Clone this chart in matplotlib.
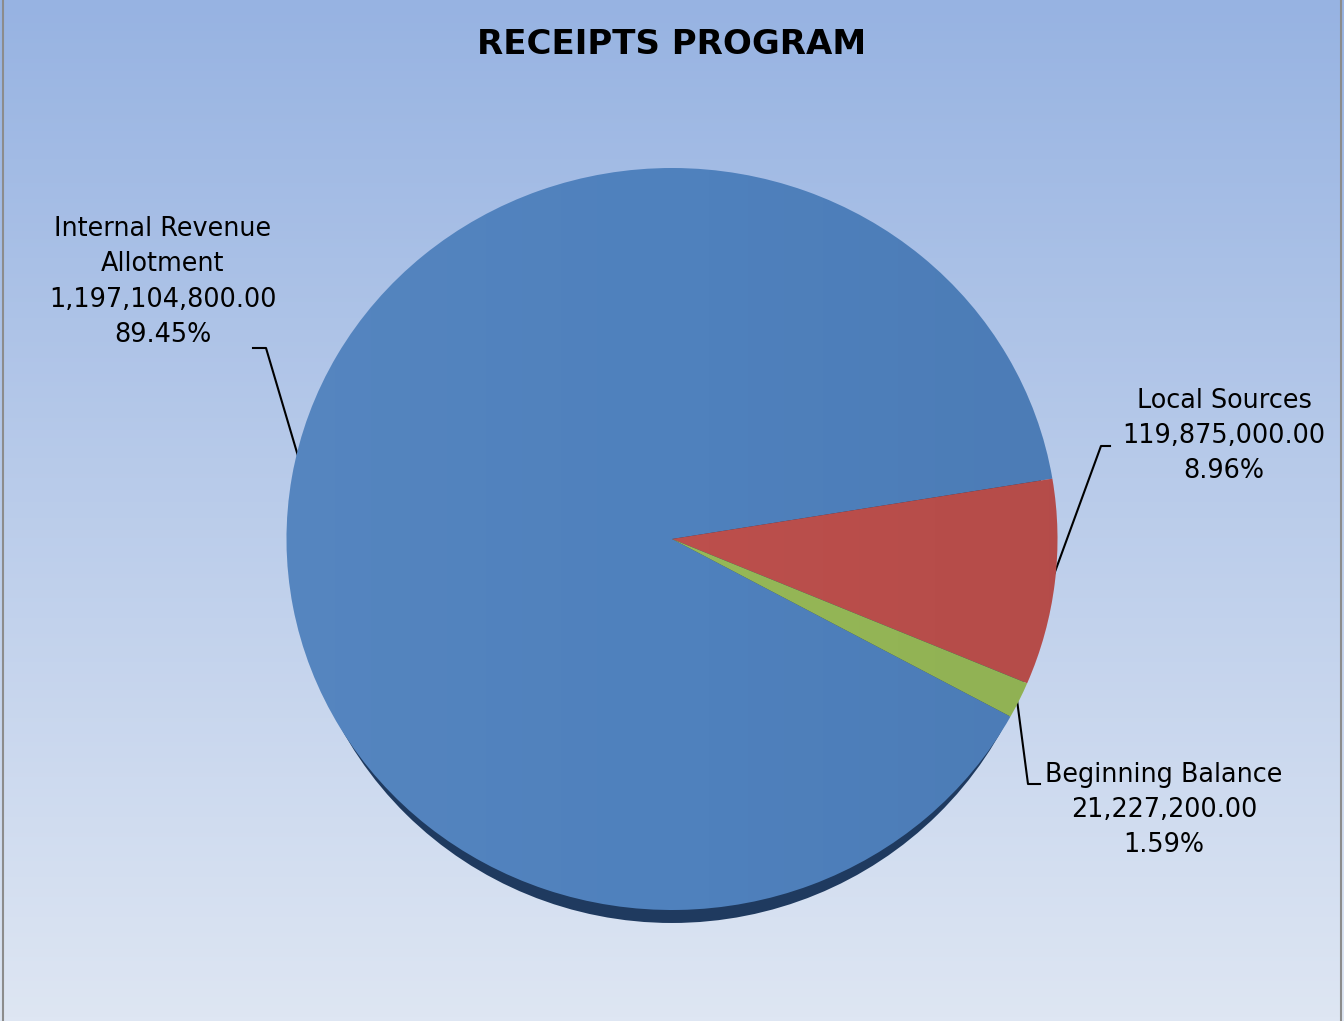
import numpy as np
import matplotlib.pyplot as plt
from matplotlib.lines import Line2D
from matplotlib.patches import Ellipse

# data
labels = ['Internal Revenue\nAllotment', 'Local Sources', 'Beginning Balance']
amounts = [1197104800.00, 119875000.00, 21227200.00]
pct_shown = [89.45, 8.96, 1.59]   # as printed on the chart
colors = ['#4F81BD', '#BC4F4C', '#96B857']

W, H = 1344, 1021
fig = plt.figure(figsize=(W / 100, H / 100), dpi=100)

# background with vertical gradient
bg = fig.add_axes([0, 0, 1, 1])
top = np.array([0x97, 0xB3, 0xE2]) / 255
bot = np.array([0xDE, 0xE6, 0xF3]) / 255
t = np.linspace(0, 1, 256)[:, None]
grad = (top * (1 - t) + bot * t)[:, None, :]
bg.imshow(grad, extent=[0, W, H, 0], aspect='auto', zorder=0)
bg.set_xlim(0, W)
bg.set_ylim(H, 0)
bg.axis('off')
# frame
bg.plot([3, 3], [0, H], color='#8C8C8C', lw=1.5)
bg.plot([W - 3, W - 3], [0, H], color='#8C8C8C', lw=1.5)

bg.text(672, 45, 'RECEIPTS PROGRAM', ha='center', va='center',
        fontsize=24.5, fontweight='bold', color='black')

# pie (slightly elliptical, like the 3-D look)
cx, cy, rx, ry = 672, 539, 385.5, 371
pax = fig.add_axes([(cx - rx) / W, (H - cy - ry) / H, 2 * rx / W, 2 * ry / H])
# dark side edge under the bottom of the pie, tapering off at both ends
pax.add_patch(Ellipse((0, -0.035), 2 * 0.9755, 2, color='#1F3A5F', lw=0, zorder=0))
wedges, _ = pax.pie(amounts, colors=colors, startangle=331.4, counterclock=False,
                    radius=1, wedgeprops=dict(linewidth=0))
pax.set_aspect('auto')
pax.set_xlim(-1, 1)
pax.set_ylim(-1, 1)
pax.axis('off')
for p in pax.patches:
    p.set_clip_on(False)

# soft left-to-right shading over the pie
shade = np.zeros((2, 256, 4))
xs = np.linspace(0, 1, 256)
shade[..., :3] = np.where(xs[:, None] < 0.5, 1.0, 0.0)
shade[..., 3] = np.abs(xs - 0.5) * 0.08
im = pax.imshow(shade, extent=[-1, 1, -1, 1], aspect='auto', zorder=3)
clip = Ellipse((0, 0), 2, 2, transform=pax.transData)
im.set_clip_path(clip)
pax.set_xlim(-1, 1)
pax.set_ylim(-1, 1)

label_pos = [(163, 282), (1224, 436), (1164, 810)]
for name, amt, pc, (x, y) in zip(labels, amounts, pct_shown, label_pos):
    bg.text(x, y, f'{name}\n{amt:,.2f}\n{pc:.2f}%', ha='center', va='center',
            fontsize=18.4, linespacing=1.47, color='black')

# leader lines
leaders = [
    ([253, 266, 298], [348, 348, 456]),
    ([1110, 1101, 1052], [446, 446, 580]),
    ([1040, 1028, 1017], [784, 784, 700]),
]
for lx, ly in leaders:
    bg.add_line(Line2D(lx, ly, color='black', lw=1.5))

fig.savefig('out.png', dpi=100)
